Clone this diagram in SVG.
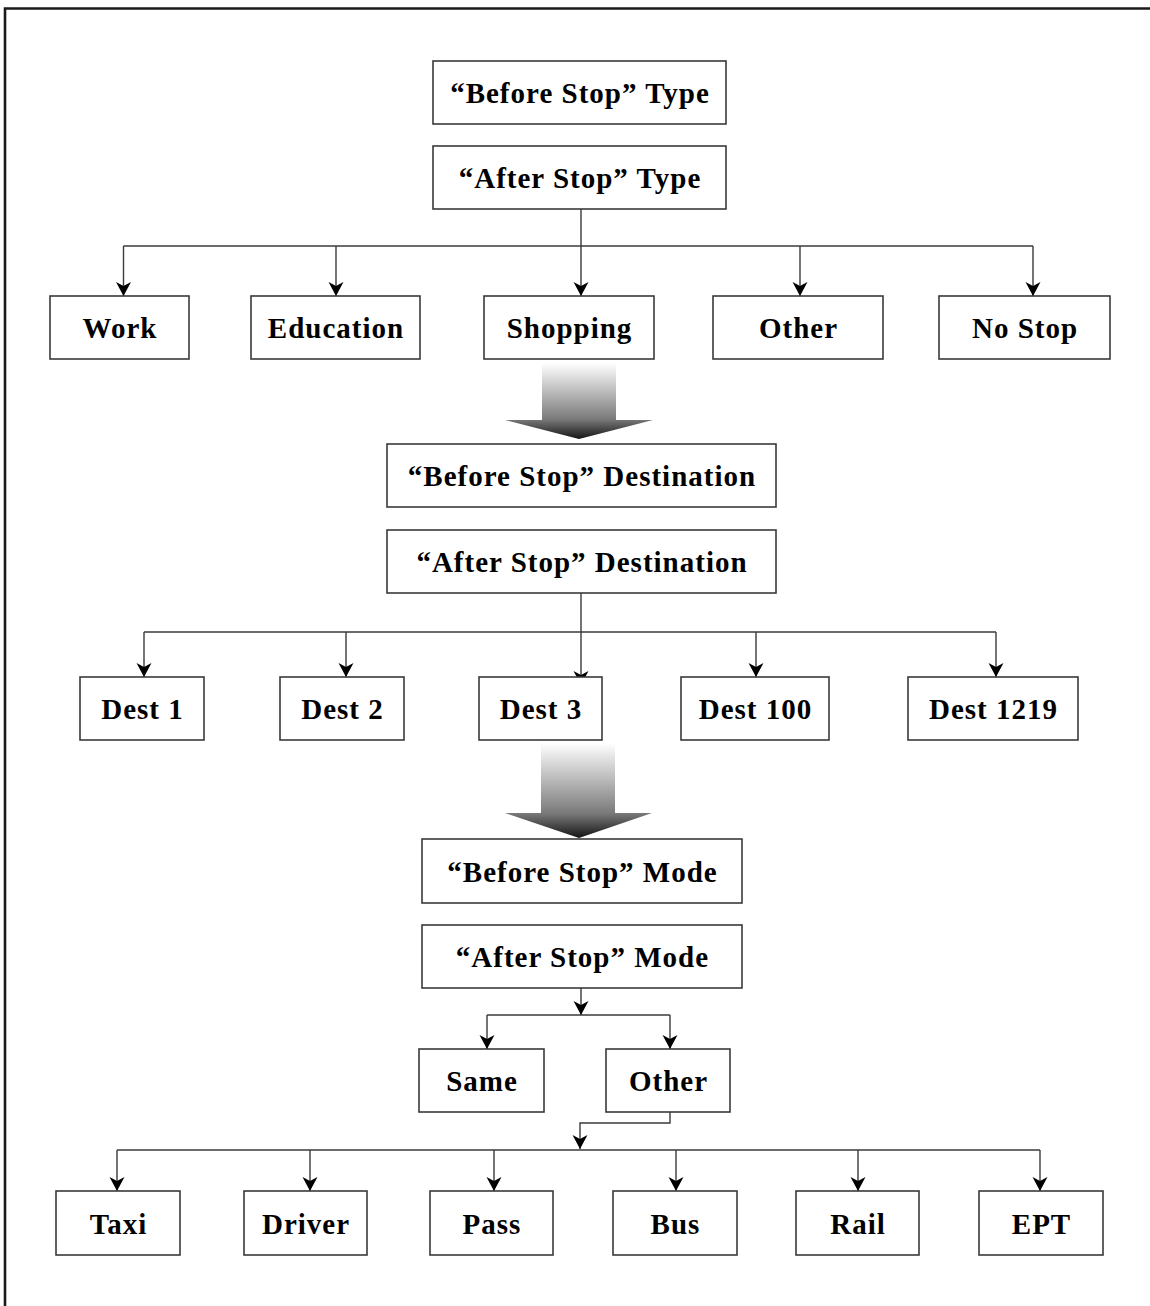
<svg xmlns="http://www.w3.org/2000/svg" width="1150" height="1306" viewBox="0 0 1150 1306">
<defs>
<style>
.box{fill:#fff;stroke:#3a3a3a;stroke-width:1.6}
.lbl{font-family:"Liberation Serif","Times New Roman",serif;font-weight:bold;font-size:29px;letter-spacing:1px;fill:#000;text-anchor:middle}
.ln{fill:none;stroke:#3a3a3a;stroke-width:1.4}
.arr{marker-end:url(#ah)}
</style>
<marker id="ah" markerUnits="userSpaceOnUse" markerWidth="16" markerHeight="16" refX="14" refY="7.5" orient="auto">
<path d="M0,0 L14,7.5 L0,15 L4,7.5 z" fill="#000"/>
</marker>
<linearGradient id="g1" gradientUnits="userSpaceOnUse" x1="0" y1="363" x2="0" y2="439">
<stop offset="0" stop-color="#ffffff"/>
<stop offset="0.74" stop-color="#7a7a7a"/>
<stop offset="1" stop-color="#151515"/>
</linearGradient>
<linearGradient id="g2" gradientUnits="userSpaceOnUse" x1="0" y1="743" x2="0" y2="838">
<stop offset="0" stop-color="#ffffff"/>
<stop offset="0.74" stop-color="#7a7a7a"/>
<stop offset="1" stop-color="#151515"/>
</linearGradient>
</defs>
<rect width="1150" height="1306" fill="#fff"/>
<path d="M5,1306 L5,8.5 L1150,8.5" fill="none" stroke="#1a1a1a" stroke-width="2.6"/>

<g id="connectors">
<path class="ln arr" d="M581,209 L581,296"/>
<path class="ln" d="M123.5,246 L1033,246"/>
<path class="ln arr" d="M123.5,246 L123.5,296"/>
<path class="ln arr" d="M336,246 L336,296"/>
<path class="ln arr" d="M800,246 L800,296"/>
<path class="ln arr" d="M1033,246 L1033,296"/>
<path d="M542,363 L616,363 L616,420 L653,420 L579,439 L505,420 L542,420 z" fill="url(#g1)"/>
<path class="ln arr" d="M581,593 L581,685"/>
<path class="ln" d="M144,632 L996,632"/>
<path class="ln arr" d="M144,632 L144,677"/>
<path class="ln arr" d="M346,632 L346,677"/>
<path class="ln arr" d="M756,632 L756,677"/>
<path class="ln arr" d="M996,632 L996,677"/>
<path d="M541,743 L615,743 L615,813 L652,813 L579,838 L505,813 L541,813 z" fill="url(#g2)"/>
<path class="ln arr" d="M581,988 L581,1015"/>
<path class="ln" d="M487,1015 L670,1015"/>
<path class="ln arr" d="M487,1015 L487,1049"/>
<path class="ln arr" d="M670,1015 L670,1049"/>
<path class="ln arr" d="M670,1112 L670,1123 L580,1123 L580,1149"/>
<path class="ln" d="M117,1150 L1040,1150"/>
<path class="ln arr" d="M117,1150 L117,1191"/>
<path class="ln arr" d="M310,1150 L310,1191"/>
<path class="ln arr" d="M494,1150 L494,1191"/>
<path class="ln arr" d="M676,1150 L676,1191"/>
<path class="ln arr" d="M858,1150 L858,1191"/>
<path class="ln arr" d="M1040,1150 L1040,1191"/>
</g>

<g id="before-stop-type"><rect class="box" x="433" y="61" width="293" height="63"/><text class="lbl" x="580" y="103">“Before Stop” Type</text></g>
<g id="after-stop-type"><rect class="box" x="433" y="146" width="293" height="63"/><text class="lbl" x="580" y="188">“After Stop” Type</text></g>
<g id="work"><rect class="box" x="50" y="296" width="139" height="63"/><text class="lbl" x="120" y="338">Work</text></g>
<g id="education"><rect class="box" x="251" y="296" width="169" height="63"/><text class="lbl" x="336" y="338">Education</text></g>
<g id="shopping"><rect class="box" x="484" y="296" width="170" height="63"/><text class="lbl" x="569.5" y="338">Shopping</text></g>
<g id="other-type"><rect class="box" x="713" y="296" width="170" height="63"/><text class="lbl" x="798.5" y="338">Other</text></g>
<g id="no-stop"><rect class="box" x="939" y="296" width="171" height="63"/><text class="lbl" x="1025" y="338">No Stop</text></g>

<g id="before-stop-destination"><rect class="box" x="387" y="444" width="389" height="63"/><text class="lbl" x="582" y="486">“Before Stop” Destination</text></g>
<g id="after-stop-destination"><rect class="box" x="387" y="530" width="389" height="63"/><text class="lbl" x="582" y="572">“After Stop” Destination</text></g>
<g id="dest-1"><rect class="box" x="80" y="677" width="124" height="63"/><text class="lbl" x="142.5" y="719">Dest 1</text></g>
<g id="dest-2"><rect class="box" x="280" y="677" width="124" height="63"/><text class="lbl" x="342.5" y="719">Dest 2</text></g>
<g id="dest-3"><rect class="box" x="479" y="677" width="123" height="63"/><text class="lbl" x="541" y="719">Dest 3</text></g>
<g id="dest-100"><rect class="box" x="681" y="677" width="148" height="63"/><text class="lbl" x="755.5" y="719">Dest 100</text></g>
<g id="dest-1219"><rect class="box" x="908" y="677" width="170" height="63"/><text class="lbl" x="993.5" y="719">Dest 1219</text></g>

<g id="before-stop-mode"><rect class="box" x="422" y="839" width="320" height="64"/><text class="lbl" x="582.5" y="881.5">“Before Stop” Mode</text></g>
<g id="after-stop-mode"><rect class="box" x="422" y="925" width="320" height="63"/><text class="lbl" x="582.5" y="967">“After Stop” Mode</text></g>
<g id="same"><rect class="box" x="419" y="1049" width="125" height="63"/><text class="lbl" x="482" y="1091">Same</text></g>
<g id="other-mode"><rect class="box" x="606" y="1049" width="124" height="63"/><text class="lbl" x="668.5" y="1091">Other</text></g>

<g id="taxi"><rect class="box" x="56" y="1191" width="124" height="64"/><text class="lbl" x="118.5" y="1233.5">Taxi</text></g>
<g id="driver"><rect class="box" x="244" y="1191" width="123" height="64"/><text class="lbl" x="306" y="1233.5">Driver</text></g>
<g id="pass"><rect class="box" x="430" y="1191" width="123" height="64"/><text class="lbl" x="492" y="1233.5">Pass</text></g>
<g id="bus"><rect class="box" x="613" y="1191" width="124" height="64"/><text class="lbl" x="675.5" y="1233.5">Bus</text></g>
<g id="rail"><rect class="box" x="796" y="1191" width="123" height="64"/><text class="lbl" x="858" y="1233.5">Rail</text></g>
<g id="ept"><rect class="box" x="979" y="1191" width="124" height="64"/><text class="lbl" x="1041.5" y="1233.5">EPT</text></g>
</svg>
